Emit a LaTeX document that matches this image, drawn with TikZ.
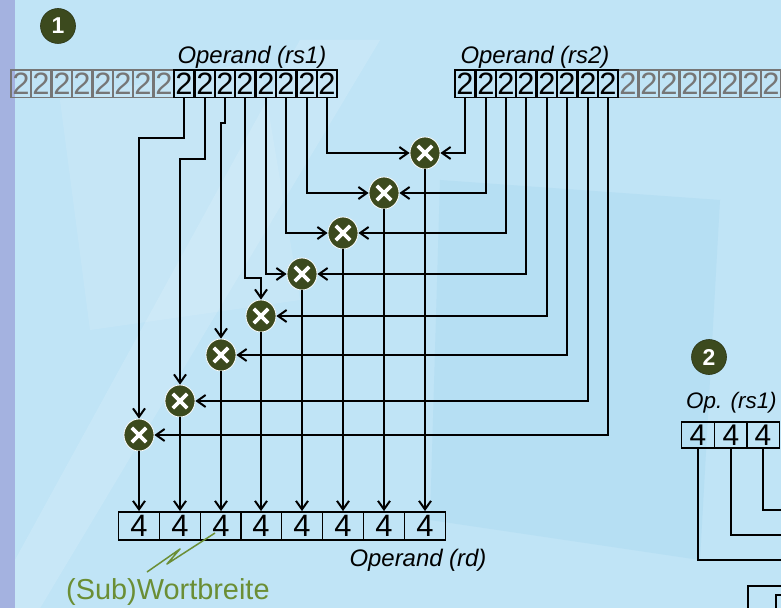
\documentclass[tikz,border=0pt]{standalone}
\usepackage{fontspec}
\setmainfont{Liberation Sans}
\usetikzlibrary{arrows.meta,shapes.geometric}
\definecolor{bgblue}{RGB}{192,228,246}
\definecolor{bgdark}{RGB}{160,212,238}
\definecolor{strip}{RGB}{164,178,224}
\definecolor{mulfill}{RGB}{60,74,30}
\definecolor{wgreen}{RGB}{107,142,53}
\definecolor{cellgrey}{RGB}{118,118,118}
\begin{document}
\begin{tikzpicture}[x=1bp,y=-1bp,
  cell/.style={draw=black, line width=1.5bp, minimum width=20.4bp, minimum height=27.5bp, inner sep=0pt, font=\fontsize{31}{31}\selectfont, text=black},
  gcell/.style={cell, draw=cellgrey, text=cellgrey},
  rdcell/.style={cell, minimum width=40.9bp, minimum height=28.3bp},
  opcell/.style={cell, minimum width=32.7bp, minimum height=26bp, font=\fontsize{30}{30}\selectfont},
  mulnode/.style={ellipse, fill=mulfill, draw=white, line width=0.8bp, minimum width=30bp, minimum height=32bp, inner sep=0pt,
    path picture={\draw[white, line width=3.6bp]
      ([xshift=-7.2bp,yshift=-7.2bp]path picture bounding box.center) -- ([xshift=7.2bp,yshift=7.2bp]path picture bounding box.center)
      ([xshift=-7.2bp,yshift=7.2bp]path picture bounding box.center) -- ([xshift=7.2bp,yshift=-7.2bp]path picture bounding box.center);}},
  conn/.style={line width=2bp, draw=black},
  arr/.style={conn, -{Straight Barb[length=8.5bp,width=12bp]}},
  lab/.style={font=\fontsize{24}{24}\selectfont\itshape, inner sep=0pt, anchor=base},
  numc/.style={circle, fill=mulfill, draw=mulfill!70!black, line width=0.6bp, minimum size=35bp, inner sep=0pt, text=white, font=\fontsize{23}{23}\selectfont\bfseries}
]
\useasboundingbox (0,0) rectangle (781,608);
\clip (0,0) rectangle (781,608);
% background
\fill[bgblue] (0,0) rectangle (781,608);
\fill[white, opacity=0.14] (15,560) -- (300,40) -- (380,40) -- (15,650) -- cycle;
\fill[bgdark, opacity=0.3] (440,180) -- (720,200) -- (700,560) -- (430,520) -- cycle;
\fill[white, opacity=0.10] (60,100) -- (260,60) -- (300,300) -- (90,330) -- cycle;
\fill[strip] (0,0) rectangle (15,608);

% number circles
\node[numc] (n1) at (58,26) {1};
\node[numc] (n2) at (709,357) {2};

% labels
\node[lab] (l1) at (252,64) {Operand (rs1)};
\node[lab] (l2) at (535,64) {Operand (rs2)};
\node[lab] (l3) at (418,566) {Operand (rd)};
\node[lab, anchor=base west, font=\fontsize{22.5}{22.5}\selectfont\itshape] (l4) at (686,408) {Op. (rs1)};
\node[inner sep=0pt, anchor=base west, text=wgreen, font=\fontsize{29}{29}\selectfont] (wb) at (66,599) {(Sub)Wortbreite};

% registers rs1
\foreach \i in {1,...,8} {
  \pgfmathsetmacro\cx{round(10.8+20.4*(\i-0.5))}
  \node[gcell] (r1c\i) at (\cx,84) {2};
}
\foreach \i in {9,...,16} {
  \pgfmathsetmacro\cx{round(10.8+20.4*(\i-0.5))}
  \node[cell] (r1c\i) at (\cx,84) {2};
}
% registers rs2
\foreach \i in {9,...,16} {
  \pgfmathsetmacro\cx{round(455+20.4*(\i-0.5))}
  \node[gcell] (r2c\i) at (\cx,84) {2};
}
\foreach \i in {1,...,8} {
  \pgfmathsetmacro\cx{round(455+20.4*(\i-0.5))}
  \node[cell] (r2c\i) at (\cx,84) {2};
}
% rd
\foreach \i in {1,...,8} {
  \pgfmathsetmacro\cx{round(118.3+40.9*(\i-0.5))}
  \node[rdcell] (rd\i) at (\cx,526) {4};
}
% Op (rs1) part 2
\foreach \i in {1,...,3} {
  \pgfmathsetmacro\cx{round(681.7+32.7*(\i-0.5))}
  \node[opcell] (op\i) at (\cx,435) {4};
}

% multipliers (x aligned with rd cells)
\node[mulnode] (mul1) at (rd8 |- 0,153) {};
\node[mulnode] (mul2) at (rd7 |- 0,193) {};
\node[mulnode] (mul3) at (rd6 |- 0,233) {};
\node[mulnode] (mul4) at (rd5 |- 0,274) {};
\node[mulnode] (mul5) at (rd4 |- 0,316) {};
\node[mulnode] (mul6) at (rd3 |- 0,355) {};
\node[mulnode] (mul7) at (rd2 |- 0,401) {};
\node[mulnode] (mul8) at (rd1 |- 0,435) {};

% rs1 -> multipliers
\draw[arr] (r1c9.south) |- (mul8.north |- 0,138) -- (mul8.north);
\draw[arr] (r1c10.south) |- (mul7.north |- 0,159) -- (mul7.north);
\draw[arr] (r1c11.south) -- (r1c11.south |- 0,123) -- (mul6.north |- 0,123) -- (mul6.north);
\draw[arr] (r1c12.south) |- (mul5.north |- 0,278) -- (mul5.north);
\draw[arr] (r1c13.south) |- (mul4.west);
\draw[arr] (r1c14.south) |- (mul3.west);
\draw[arr] (r1c15.south) |- (mul2.west);
\draw[arr] (r1c16.south) |- (mul1.west);
% rs2 -> multipliers
\foreach \k in {1,...,8} {
  \draw[arr] (r2c\k.south) |- (mul\k.east);
}
% multipliers -> rd
\foreach \k [evaluate=\k as \j using int(9-\k)] in {1,...,8} {
  \draw[arr] (mul\k.south) -- (mul\k.south |- rd\j.north);
}

% part 2 lines
\coordinate (o1e) at (790,560);
\coordinate (o2e) at (790,535);
\coordinate (o3e) at (790,510);
\draw[conn] (op1.south) |- (o1e);
\draw[conn] (op2.south) |- (o2e);
\draw[conn] (op3.south) |- (o3e);
\coordinate (bx1) at (748,586);
\coordinate (bx2) at (820,640);
\draw[conn] (bx1) rectangle (bx2);
\coordinate (ib1) at (776,620);
\coordinate (ib2) at (800,595);
\draw[conn] (ib1) |- (ib2);

% (Sub)Wortbreite pointer
\coordinate (z1) at (180,549);
\coordinate (z2) at (167,564);
\coordinate (z3) at (215,533);
\draw[wgreen, line width=1.5bp, line join=round] (147,572) -- (z1) -- (z2) -- (z3);
\end{tikzpicture}
\end{document}
